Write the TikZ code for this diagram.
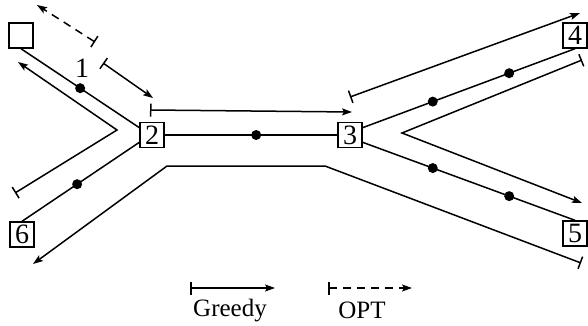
\documentclass[tikz,border=0pt]{standalone}
\usepackage{fontspec}
\setmainfont{Liberation Serif}
\usetikzlibrary{arrows.meta}
\tikzset{
  box/.style={draw, line width=1.4pt, minimum width=24pt, minimum height=25pt, inner sep=0pt, font=\fontsize{28}{32}\selectfont},
  lab/.style={inner sep=0pt, font=\fontsize{25}{30}\selectfont},
  edge/.style={line width=1.5pt},
  dot/.style={circle, fill=black, inner sep=0pt, minimum size=10pt},
  greedy/.style={line width=1.5pt, {Bar[width=13pt,line width=1.5pt]}-{Stealth[length=10pt,width=7pt,inset=2pt]}},
  opt/.style={greedy, dash pattern=on 8pt off 6pt}
}
\begin{document}
\begin{tikzpicture}[x=1pt,y=-1pt]
\useasboundingbox (0,0) rectangle (588,326);
% nodes
\node[box] (n1) at (21,35.5) {\phantom{0}};
\node[box] (n2) at (152,135) {2};
\node[box] (n3) at (350,135) {3};
\node[box] (n4) at (575,35.5) {4};
\node[box] (n5) at (575,233.5) {5};
\node[box] (n6) at (22,234.5) {6};
\node[lab, font=\fontsize{28}{32}\selectfont] (l1) at (82,68) {1};
% tree edges
\draw[edge] (n1.south) -- (n2.150) node[dot, pos=0.5] (d12) {};
\draw[edge] (n6.north) -- (n2.210) node[dot, pos=0.47] (d62) {};
\draw[edge] (n2.east) -- (n3.west) node[dot, pos=0.53] (d23) {};
\draw[edge] (n3.30) -- (n4.south) node[dot, pos=0.33] (d34a) {} node[dot, pos=0.69] (d34b) {};
\draw[edge] (n3.-30) -- (n5.north) node[dot, pos=0.33] (d35a) {} node[dot, pos=0.69] (d35b) {};
% greedy / opt walks
\coordinate (g1s) at (103,63);  \coordinate (g1e) at (153,98);
\coordinate (g2s) at (150,110); \coordinate (g2e) at (352,112);
\coordinate (g3s) at (350,97);  \coordinate (g3e) at (580,13);
\coordinate (g4s) at (582,60);  \coordinate (g4m) at (402,133); \coordinate (g4e) at (582,203);
\coordinate (g5s) at (581,263); \coordinate (g5a) at (325,166); \coordinate (g5b) at (167,166); \coordinate (g5e) at (33,264);
\coordinate (g6s) at (15,193);  \coordinate (g6m) at (117,130); \coordinate (g6e) at (18,62);
\coordinate (o1s) at (95,42);   \coordinate (o1e) at (37,5);
\draw[greedy] (g1s) -- (g1e);
\draw[greedy] (g2s) -- (g2e);
\draw[greedy] (g3s) -- (g3e);
\draw[greedy] (g4s) -- (g4m) -- (g4e);
\draw[greedy] (g5s) -- (g5a) -- (g5b) -- (g5e);
\draw[greedy] (g6s) -- (g6m) -- (g6e);
\draw[opt] (o1s) -- (o1e);
% legend
\coordinate (lgs) at (190,288); \coordinate (lge) at (275,288);
\coordinate (los) at (328,288); \coordinate (loe) at (412,288);
\draw[greedy] (lgs) -- (lge);
\draw[opt] (los) -- (loe);
\node[lab] (tg) at (230,311) {Greedy};
\node[lab] (to) at (362,310) {OPT};
\end{tikzpicture}
\end{document}
